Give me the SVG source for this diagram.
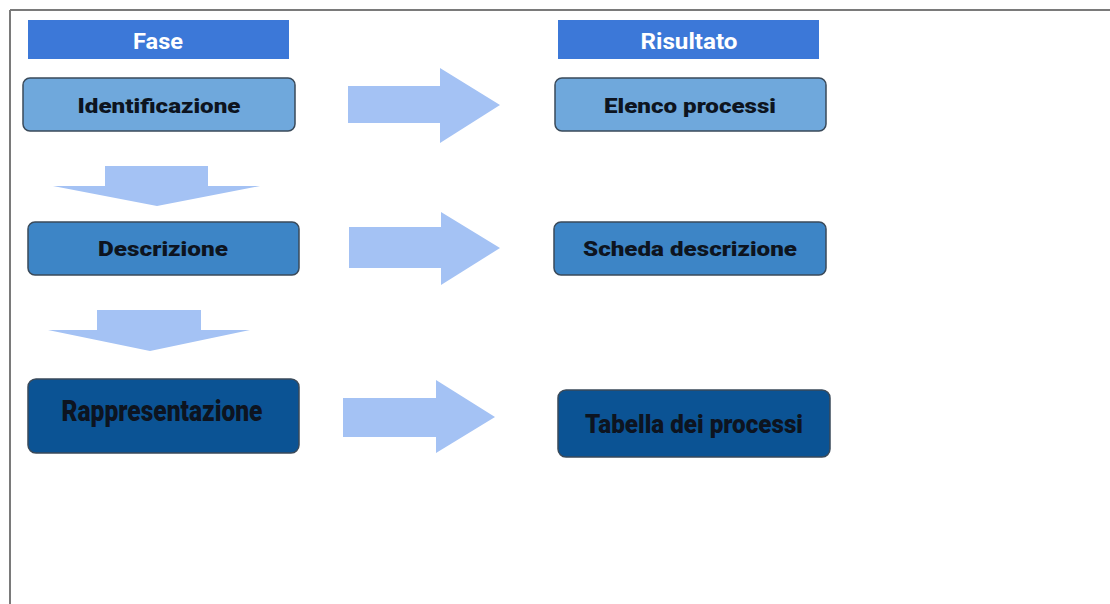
<svg xmlns="http://www.w3.org/2000/svg" width="1110" height="604" viewBox="0 0 1110 604">
<style>
.hdr{fill:#3c78d8}
.hdrt{font-family:Roboto,"Liberation Sans",sans-serif;font-weight:bold;font-size:22px;fill:#ffffff;text-anchor:middle}
.box{stroke:#3a4a5a;stroke-width:1.5}
.l1{fill:#6fa8dc}
.l2{fill:#3d85c6}
.l3{fill:#0b5394}
.t{font-family:Roboto,"Liberation Sans",sans-serif;font-weight:900;fill:#0d1420;text-anchor:middle}
.arr{fill:#a4c2f4}
</style>
<rect width="1110" height="604" fill="#ffffff"/>
<g id="frame" stroke="#7a7a7a" stroke-width="2" fill="none">
<line x1="10" y1="10" x2="1110" y2="10"/>
<line x1="10" y1="10" x2="10" y2="604"/>
</g>
<g id="hdr-fase"><rect class="hdr" x="28" y="20" width="261" height="39"/><text class="hdrt" x="158" y="49" textLength="50" lengthAdjust="spacingAndGlyphs">Fase</text></g>
<g id="hdr-risultato"><rect class="hdr" x="558" y="20" width="261" height="39"/><text class="hdrt" x="689" y="49" textLength="97" lengthAdjust="spacingAndGlyphs">Risultato</text></g>
<g id="n-identificazione"><rect class="box l1" x="23" y="78" width="272" height="53" rx="7"/><text class="t" x="159" y="113" font-size="20" textLength="163" lengthAdjust="spacingAndGlyphs">Identificazione</text></g>
<g id="n-descrizione"><rect class="box l2" x="28" y="222" width="271" height="53" rx="7"/><text class="t" x="163" y="256" font-size="20" textLength="130" lengthAdjust="spacingAndGlyphs">Descrizione</text></g>
<g id="n-rappresentazione"><rect class="box l3" x="28" y="379" width="271" height="74" rx="8"/><text class="t" x="162" y="421" font-size="30" textLength="201" lengthAdjust="spacingAndGlyphs">Rappresentazione</text></g>
<g id="n-elenco"><rect class="box l1" x="555" y="78" width="271" height="53" rx="7"/><text class="t" x="690" y="113" font-size="20" textLength="172" lengthAdjust="spacingAndGlyphs">Elenco processi</text></g>
<g id="n-scheda"><rect class="box l2" x="554" y="222" width="272" height="53" rx="7"/><text class="t" x="690" y="256" font-size="20" textLength="214" lengthAdjust="spacingAndGlyphs">Scheda descrizione</text></g>
<g id="n-tabella"><rect class="box l3" x="558" y="390" width="272" height="67" rx="8"/><text class="t" x="694" y="433" font-size="25" textLength="218" lengthAdjust="spacingAndGlyphs">Tabella dei processi</text></g>
<g id="connectors">
<polygon class="arr" points="348,86 440,86 440,68 500,105 440,143 440,123 348,123"/>
<polygon class="arr" points="349,227 441,227 441,212 500,248 441,285 441,268 349,268"/>
<polygon class="arr" points="343,398 436,398 436,380 495,417 436,453 436,437 343,437"/>
<polygon class="arr" points="105,166 208,166 208,186 260,186 157,206 53,186 105,186"/>
<polygon class="arr" points="97,310 201,310 201,330 250,330 150,351 48,330 97,330"/>
</g>
</svg>
